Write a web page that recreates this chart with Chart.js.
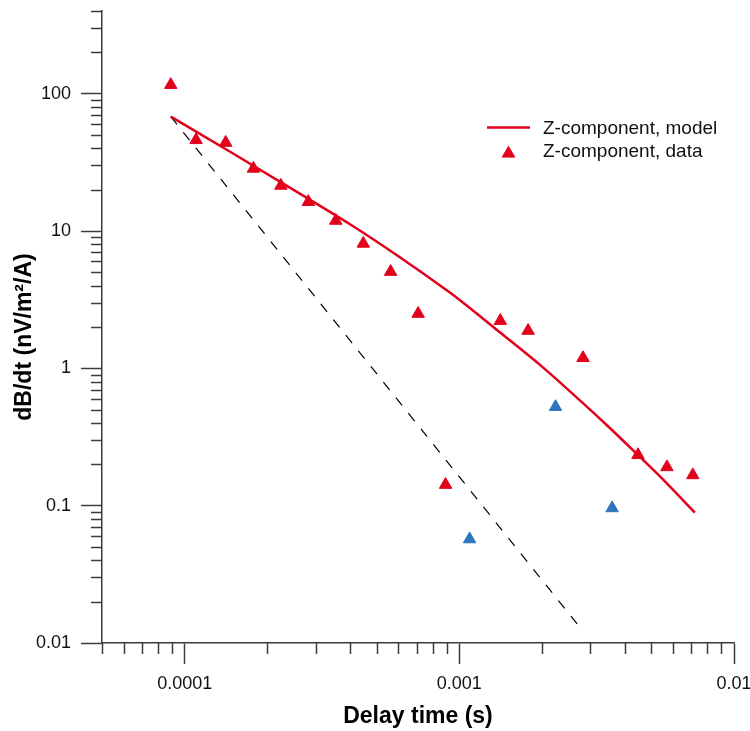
<!DOCTYPE html>
<html lang="en">
<head>
  <meta charset="UTF-8">
  <title>dB/dt decay curve</title>
  <script src="https://cdn.jsdelivr.net/npm/chart.js"></script>
  <style>
    html, body {
      margin: 0;
      padding: 0;
      background: #fff;
    }
    .chart-container {
      position: relative;
      width: 750px;
      height: 731px;
    }
  </style>
</head>
<body>
  <div class="chart-container">
    <canvas id="chart"></canvas>
  </div>

  <script>
    // measured data (Z-component), gate time in s, dB/dt in nV/m²/A
    const redTimes  = [0.000089, 0.00011, 0.000141, 0.000178, 0.000224, 0.000282, 0.000355, 0.000447, 0.000562, 0.000708, 0.000891, 0.00141, 0.00178, 0.00282, 0.00447, 0.0057, 0.00708];
    const redValues = [116, 46, 44, 28.5, 21.4, 16.3, 11.9, 8.1, 5.05, 2.5, 0.142, 2.22, 1.88, 1.19, 0.234, 0.191, 0.167];
    const blueTimes  = [0.00109, 0.00224, 0.0036];
    const blueValues = [0.057, 0.524, 0.096];

    // model curve
    const modelTimes  = [0.000089, 0.00015, 0.00025, 0.0004, 0.0006, 0.0009, 0.001, 0.0014, 0.002, 0.0028, 0.0035, 0.0044, 0.0055, 0.0072];
    const modelValues = [68, 36.7, 19.85, 11.2, 6.55, 3.7, 3.16, 1.84, 1.03, 0.565, 0.374, 0.241, 0.156, 0.089];

    // dashed late-time line
    const dashTimes  = [0.000089, 0.0028];
    const dashValues = [68, 0.0124];

    const legendLabels = ['Z-component, model', 'Z-component, data'];
    const xTitle = 'Delay time (s)';
    const yTitle = 'dB/dt (nV/m²/A)';

    const xMajorTicks = [0.0001, 0.001, 0.01];
    const xTickLabels = ['0.0001', '0.001', '0.01'];
    const xMinorTicks = [0.00005, 0.00006, 0.00007, 0.00008, 0.00009,
      0.0002, 0.0003, 0.0004, 0.0005, 0.0006, 0.0007, 0.0008, 0.0009,
      0.002, 0.003, 0.004, 0.005, 0.006, 0.007, 0.008, 0.009];

    const yMajorTicks = [0.01, 0.1, 1, 10, 100];
    const yTickLabels = ['0.01', '0.1', '1', '10', '100'];
    const yMinorTicks = [0.02, 0.03, 0.04, 0.05, 0.06, 0.07, 0.08, 0.09,
      0.2, 0.3, 0.4, 0.5, 0.6, 0.7, 0.8, 0.9,
      2, 3, 4, 5, 6, 7, 8, 9,
      20, 30, 40, 50, 60, 70, 80, 90,
      200, 300, 400];

    const RED = '#e2001a';
    const BLUE = '#2f75be';
    const AXIS = '#3c3c3c';
    const FONT = "'Liberation Sans', Arial, sans-serif";

    const pairs = (xs, ys) => xs.map((x, i) => ({ x: x, y: ys[i] }));

    // minor ticks, y title and legend, drawn with the chart's own scales
    const extras = {
      id: 'extras',
      afterDraw(chart) {
        const ctx = chart.ctx;
        const xs = chart.scales.x, ys = chart.scales.y;
        const area = chart.chartArea;
        ctx.save();
        ctx.strokeStyle = AXIS;
        ctx.lineWidth = 1.5;
        ctx.beginPath();
        xMinorTicks.forEach(v => {
          const px = Math.round(xs.getPixelForValue(v)) + 0.5;
          ctx.moveTo(px, area.bottom);
          ctx.lineTo(px, area.bottom + 11);
        });
        yMinorTicks.forEach(v => {
          const py = Math.round(ys.getPixelForValue(v)) + 0.5;
          ctx.moveTo(area.left, py);
          ctx.lineTo(area.left - 11, py);
        });
        ctx.stroke();

        // y axis title
        ctx.save();
        ctx.translate(25, (area.top + area.bottom) / 2 + 10);
        ctx.rotate(-Math.PI / 2);
        ctx.fillStyle = '#000';
        ctx.font = 'bold 23px ' + FONT;
        ctx.textAlign = 'center';
        ctx.textBaseline = 'middle';
        ctx.fillText(yTitle, 0, 0);
        ctx.restore();

        // legend
        const model = chart.data.datasets[0];
        const data = chart.data.datasets[2];
        ctx.strokeStyle = model.borderColor;
        ctx.lineWidth = model.borderWidth;
        ctx.beginPath();
        ctx.moveTo(487, 127.5);
        ctx.lineTo(530, 127.5);
        ctx.stroke();

        const r = data.pointRadius, cx = 508.5, cy = 153.5;
        ctx.fillStyle = data.backgroundColor;
        ctx.strokeStyle = data.borderColor;
        ctx.lineWidth = data.borderWidth;
        ctx.beginPath();
        ctx.moveTo(cx, cy - r);
        ctx.lineTo(cx + r * 0.866, cy + r / 2);
        ctx.lineTo(cx - r * 0.866, cy + r / 2);
        ctx.closePath();
        ctx.fill();
        ctx.stroke();

        ctx.fillStyle = '#111';
        ctx.font = '19px ' + FONT;
        ctx.textAlign = 'left';
        ctx.textBaseline = 'alphabetic';
        ctx.fillText(legendLabels[0], 543, 134.3);
        ctx.fillText(legendLabels[1], 543, 157);
        ctx.restore();
      }
    };

    const ctx = document.getElementById('chart').getContext('2d');
    new Chart(ctx, {
      type: 'scatter',
      data: {
        datasets: [
          {
            label: legendLabels[0],
            data: pairs(modelTimes, modelValues),
            showLine: true,
            borderColor: RED,
            borderWidth: 2.5,
            pointRadius: 0,
            cubicInterpolationMode: 'monotone',
            fill: false
          },
          {
            label: 'late time',
            data: pairs(dashTimes, dashValues),
            showLine: true,
            borderColor: '#000',
            borderWidth: 1.2,
            borderDash: [10, 10],
            pointRadius: 0,
            fill: false
          },
          {
            label: legendLabels[1],
            data: pairs(redTimes, redValues),
            pointStyle: 'triangle',
            pointRadius: 7.2,
            borderWidth: 1,
            backgroundColor: RED,
            borderColor: RED
          },
          {
            label: 'data (blue)',
            data: pairs(blueTimes, blueValues),
            pointStyle: 'triangle',
            pointRadius: 7.2,
            borderWidth: 1,
            backgroundColor: BLUE,
            borderColor: BLUE
          }
        ]
      },
      options: {
        responsive: true,
        maintainAspectRatio: false,
        animation: false,
        layout: { padding: { left: 0, right: 16, top: 11, bottom: 0 } },
        plugins: {
          legend: { display: false },
          tooltip: { enabled: false }
        },
        scales: {
          x: {
            type: 'logarithmic',
            min: 0.00005,
            max: 0.01,
            afterBuildTicks: s => { s.ticks = xMajorTicks.map(v => ({ value: v, major: true })); },
            afterFit: s => { s.height = 88; s.paddingLeft = 0; s.paddingRight = 0; },
            ticks: {
              autoSkip: false,
              maxRotation: 0,
              padding: 9,
              color: '#111',
              font: { family: FONT, size: 18 },
              callback: (v, i) => xTickLabels[i]
            },
            grid: {
              display: true,
              drawOnChartArea: false,
              drawTicks: true,
              tickLength: 21,
              tickColor: AXIS,
              tickWidth: 1.5
            },
            border: { display: true, color: AXIS, width: 1.5 },
            title: {
              display: true,
              text: xTitle,
              color: '#000',
              font: { family: FONT, size: 23, weight: 'bold' },
              padding: { top: 0, bottom: 1 }
            }
          },
          y: {
            type: 'logarithmic',
            min: 0.01,
            max: 400,
            afterBuildTicks: s => { s.ticks = yMajorTicks.map(v => ({ value: v, major: true })); },
            afterFit: s => { s.width = 102; s.paddingTop = 0; s.paddingBottom = 0; },
            ticks: {
              autoSkip: false,
              padding: 10,
              color: '#111',
              font: { family: FONT, size: 18 },
              callback: (v, i) => yTickLabels[i]
            },
            grid: {
              display: true,
              drawOnChartArea: false,
              drawTicks: true,
              tickLength: 21,
              tickColor: AXIS,
              tickWidth: 1.5
            },
            border: { display: true, color: AXIS, width: 1.5 },
            title: { display: false }
          }
        }
      },
      plugins: [extras]
    });
  </script>
</body>
</html>
